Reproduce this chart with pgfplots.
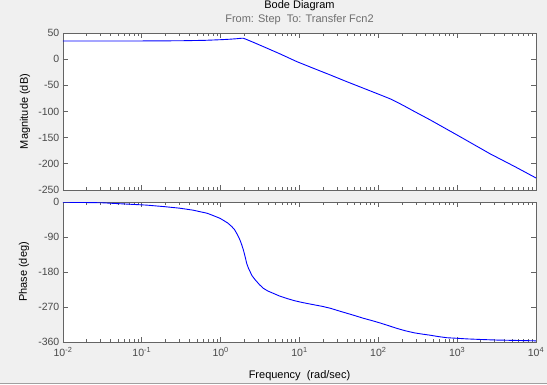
\documentclass[border=0pt]{standalone}
\usepackage{pgfplots}
\pgfplotsset{compat=1.18}
\usepackage{fontspec}
\setmainfont{Liberation Sans}
\definecolor{bg}{HTML}{F0F0F0}
\definecolor{axgray}{HTML}{646464}
\definecolor{ticklab}{HTML}{4A4A4A}
\definecolor{subgray}{HTML}{6E6E6E}
\definecolor{edge}{HTML}{A0A0A0}
\definecolor{mblue}{HTML}{0000FF}

\pgfplotstableread{
w dB
0.01 34.7
0.0316 34.7
0.1 34.8
0.316 35.2
0.631 36.0
0.8 36.6
1.0 37.2
1.26 38.0
1.58 39.0
1.85 40.0
1.95 39.9
2.14 37.5
2.57 32.5
3.48 24
5.68 10
9.25 -4.7
15.0 -17.4
24.4 -30
39.8 -43
64.7 -55.5
105 -68
140 -75.5
172 -82
220 -90.5
279 -99
454 -116
1000 -145
2630 -181
5500 -206
10000 -227
}\magtable

\pgfplotstableread{
w deg
0.01 -0.5
0.0316 -2
0.0479 -4
0.115 -8
0.195 -12
0.305 -16
0.447 -21
0.676 -29
0.807 -35
0.982 -42
1.08 -47
1.23 -54
1.38 -63
1.50 -71
1.60 -81
1.68 -89
1.76 -98
1.85 -110
1.94 -123
2.04 -140
2.14 -158
2.25 -170
2.36 -179
2.51 -190
2.74 -200
3.09 -212
3.48 -222
3.98 -229
4.67 -235
5.62 -242
6.90 -248
8.71 -254
11.2 -259
15.0 -264
19.1 -268
24.4 -273
31.6 -280
39.8 -286
50.1 -292
64.7 -299
83.2 -305
105 -311
135 -318
172 -325
219 -331
279 -336
355 -339.5
454 -342.5
575 -346
740 -349
1000 -350.5
1324 -352
1995 -353.5
3184 -355
5623 -356
10000 -357
}\phasetable

\pgfplotsset{
  every axis/.append style={
    scale only axis,
    width=473pt,
    xmin=1e-2, xmax=1e4,
    tick align=inside,
    xtick pos=both, ytick pos=both,
    major tick length=5pt,
    minor tick length=3pt,
    axis line style={draw=axgray, line width=0.8pt},
    tick style={draw=axgray, line width=0.8pt},
    axis background/.style={fill=white},
    tick label style={text=ticklab, font=\fontsize{10.5}{12}\selectfont},
    yticklabel style={inner sep=0pt, xshift=-3.5pt},
    xticklabel style={inner sep=0pt, yshift=-5pt},
    label style={font=\fontsize{11}{13}\selectfont, text=black},
  }
}

\begin{document}
\begin{tikzpicture}[x=1pt,y=1pt]
\fill[bg] (0,0) rectangle (547,384);
\useasboundingbox (0,0) rectangle (547,384);
\draw[edge, line width=1pt] (0,0.5) -- (547,0.5);
\node[font=\fontsize{11}{13}\selectfont, text=black] at (299.5,378) {Bode Diagram};
\node[font=\fontsize{11}{13}\selectfont, text=subgray] at (299.5,364) {From: Step\ \ To: Transfer Fcn2};

\begin{semilogxaxis}[
  at={(63pt,194pt)}, anchor=south west,
  height=157pt,
  xtick={1e-2,1e-1,1e0,1e1,1e2,1e3,1e4},
  ymin=-250, ymax=50,
  ytick={-250,-200,-150,-100,-50,0,50},
  yticklabels={-250,-200,-150,-100,-50,0,50},
  xticklabels={},
  ylabel={Magnitude (dB)},
  ylabel style={at={(axis description cs:-0.0803,0.5)}, anchor=center},
]
\addplot[mblue, line width=0.9pt] table[x=w, y=dB] {\magtable};
\end{semilogxaxis}

\begin{semilogxaxis}[
  at={(63pt,42pt)}, anchor=south west,
  height=140pt,
  xtick={1e-2,1e-1,1e0,1e1,1e2,1e3,1e4},
  ymin=-360, ymax=0,
  ytick={-360,-270,-180,-90,0},
  yticklabels={-360,-270,-180,-90,0},
  xticklabels={10\textsuperscript{-2},10\textsuperscript{-1},10\textsuperscript{0},10\textsuperscript{1},10\textsuperscript{2},10\textsuperscript{3},10\textsuperscript{4}},
  ylabel={Phase (deg)},
  ylabel style={at={(axis description cs:-0.0825,0.5)}, anchor=center},
  xlabel={Frequency\ \ (rad/sec)},
  xlabel style={at={(axis description cs:0.5,-0.243)}, anchor=center},
]
\addplot[mblue, line width=0.9pt] table[x=w, y=deg] {\phasetable};
\end{semilogxaxis}
\end{tikzpicture}
\end{document}
